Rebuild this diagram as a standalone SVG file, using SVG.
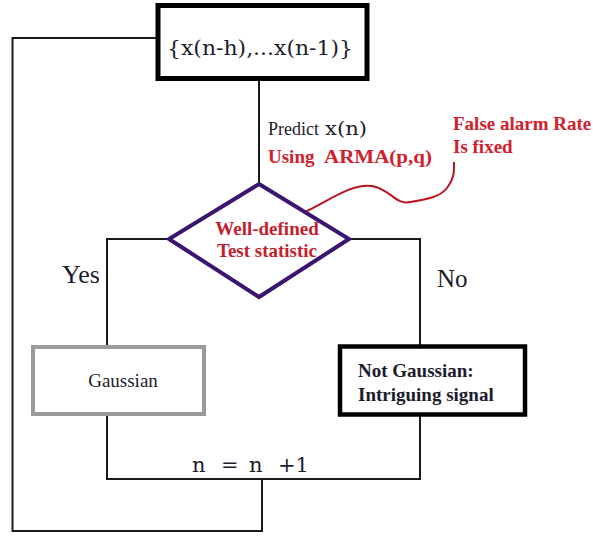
<svg xmlns="http://www.w3.org/2000/svg" width="593" height="536" viewBox="0 0 593 536">
<style>
.wire{fill:none;stroke:#1a1a1a;stroke-width:2;stroke-linejoin:miter}
.serif{font-family:"Liberation Serif","DejaVu Serif",serif}
.math{font-family:"DejaVu Serif","Liberation Serif",serif}
.dark{fill:#1c1c2c}
.red{fill:#d2202c;font-weight:bold}
</style>
<rect width="593" height="536" fill="#ffffff"/>
<g id="connectors">
<polyline class="wire" points="158,38 12.5,38 12.5,531 262,531 262,479"/>
<line class="wire" x1="259" y1="78" x2="259" y2="184"/>
<polyline class="wire" points="169,239 107,239 107,347"/>
<polyline class="wire" points="349,239 420,239 420,346"/>
<polyline class="wire" points="107,414 107,479 420,479 420,415"/>
<path d="M305,212 C330,200 352,183 372,186 C392,190 395,205 410,202 C428,199 440,197 447,188 C455,178 454,170 454,162" fill="none" stroke="#b8141e" stroke-width="2"/>
<text class="serif dark" x="62" y="283" font-size="26">Yes</text>
<text class="serif dark" x="437" y="287" font-size="25">No</text>
<text class="math dark" font-size="21" y="472"><tspan x="192">n</tspan><tspan x="221">=</tspan><tspan x="249">n</tspan><tspan x="278">+1</tspan></text>
<text class="serif dark" x="268" y="135" font-size="18">Predict</text>
<text class="math dark" x="325" y="135" font-size="18" textLength="42" lengthAdjust="spacingAndGlyphs">x(n)</text>
<text class="serif red" x="268" y="163" font-size="19">Using</text>
<text class="serif red" x="324" y="163" font-size="19" textLength="108" lengthAdjust="spacingAndGlyphs">ARMA(p,q)</text>
</g>
<g id="node-window">
<rect x="158" y="5.5" width="209" height="73" fill="#ffffff" stroke="#000000" stroke-width="5"/>
<text class="math dark" x="167" y="55" font-size="20" textLength="186" lengthAdjust="spacingAndGlyphs">{x(n-h),...x(n-1)}</text>
</g>
<g id="node-test">
<polygon points="259,184 349,239 259,297 169,239" fill="#ffffff" stroke="#3a1670" stroke-width="4" stroke-linejoin="miter"/>
<text class="serif" x="267" y="235" font-size="19" font-weight="bold" fill="#c41e2c" text-anchor="middle">Well-defined</text>
<text class="serif" x="267" y="257" font-size="19" font-weight="bold" fill="#c41e2c" text-anchor="middle">Test statistic</text>
</g>
<g id="node-note">
<text class="serif red" x="453" y="130" font-size="19">False alarm Rate</text>
<text class="serif red" x="453" y="153" font-size="19">Is fixed</text>
</g>
<g id="node-gaussian">
<rect x="33" y="347" width="171" height="67" fill="#ffffff" stroke="#9a9a9a" stroke-width="4"/>
<text class="serif dark" x="123" y="387" font-size="19" text-anchor="middle">Gaussian</text>
</g>
<g id="node-notgaussian">
<rect x="340" y="346.5" width="185" height="68" fill="#ffffff" stroke="#000000" stroke-width="4.5"/>
<text class="serif dark" x="358" y="377" font-size="19" font-weight="bold">Not Gaussian:</text>
<text class="serif dark" x="358" y="401" font-size="19" font-weight="bold">Intriguing signal</text>
</g>
</svg>
